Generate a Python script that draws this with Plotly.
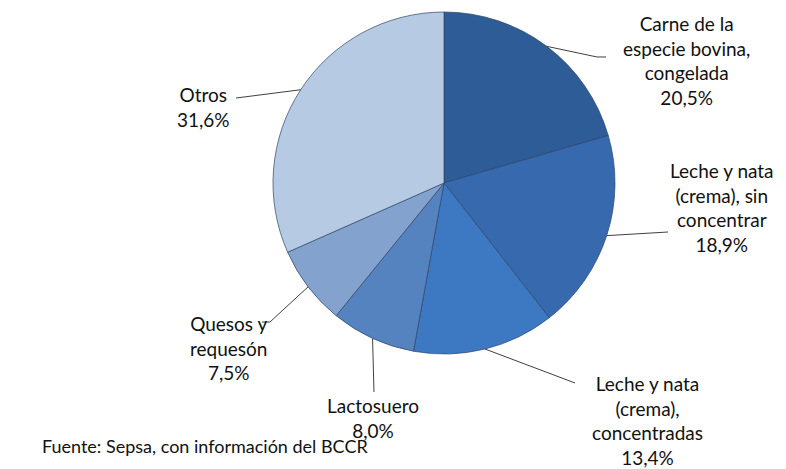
import math
import plotly.graph_objects as go

W, H = 786, 469

categories = [
    "Carne de la<br>especie bovina,<br>congelada",
    "Leche y nata<br>(crema), sin<br>concentrar",
    "Leche y nata<br>(crema),<br>concentradas",
    "Lactosuero",
    "Quesos y<br>requesón",
    "Otros",
]
shares = [20.5, 18.9, 13.4, 8.0, 7.5, 31.6]
colors = ["#2D5C96", "#3669AE", "#3D79C2", "#5583BF", "#84A2CE", "#B7CAE4"]

# label centres and leader-line end points, in pixels
label_pos = [(686, 60), (722, 207), (647, 420), (373, 418), (228, 348), (203, 107)]
line_end = [[(597, 57), (606, 57)], [(668, 232)], [(575, 383)], [(374, 392)],
            [(270, 322), (262, 322)], [(236, 98)]]

CX, CY, R = 444, 183, 171


def px(x):
    return x / W


def py(y):
    return 1 - y / H


fig = go.Figure(go.Pie(
    labels=categories,
    values=shares,
    sort=False,
    direction="clockwise",
    rotation=0,
    textinfo="none",
    hoverinfo="label+percent",
    marker=dict(colors=colors, line=dict(color="rgba(45,70,105,0.7)", width=1)),
    domain=dict(x=[px(CX - R), px(CX + R)], y=[py(CY + R), py(CY - R)]),
    showlegend=False,
))

total = sum(shares)
cum = 0
shapes = []
annotations = []
for cat, v, (lx, ly), ends in zip(categories, shares, label_pos, line_end):
    mid = (cum + v / 2) / total * 2 * math.pi
    cum += v
    ex, ey = CX + R * math.sin(mid), CY - R * math.cos(mid)
    pts = [(ex, ey)] + ends
    path = "M " + " L ".join(f"{px(a):.4f},{py(b):.4f}" for a, b in pts)
    shapes.append(dict(type="path", path=path, xref="paper", yref="paper",
                       line=dict(color="#404040", width=1)))
    txt = f"{cat}<br>{v:.1f}%".replace(".", ",")
    annotations.append(dict(text=txt, x=px(lx), y=py(ly), xref="paper", yref="paper",
                            xanchor="center", yanchor="middle", showarrow=False,
                            font=dict(size=19, color="#111")))

annotations.append(dict(text="Fuente: Sepsa, con información del BCCR",
                        x=px(40), y=py(446), xref="paper", yref="paper",
                        xanchor="left", yanchor="middle", showarrow=False,
                        font=dict(size=18, color="#111")))

fig.update_layout(
    width=W, height=H,
    margin=dict(l=0, r=0, t=0, b=0),
    paper_bgcolor="white",
    plot_bgcolor="white",
    font=dict(family="Lato, 'Open Sans', sans-serif"),
    shapes=shapes,
    annotations=annotations,
)

fig.write_html("out.html", config={"displayModeBar": False},
               post_script="document.body.style.margin='0';")
